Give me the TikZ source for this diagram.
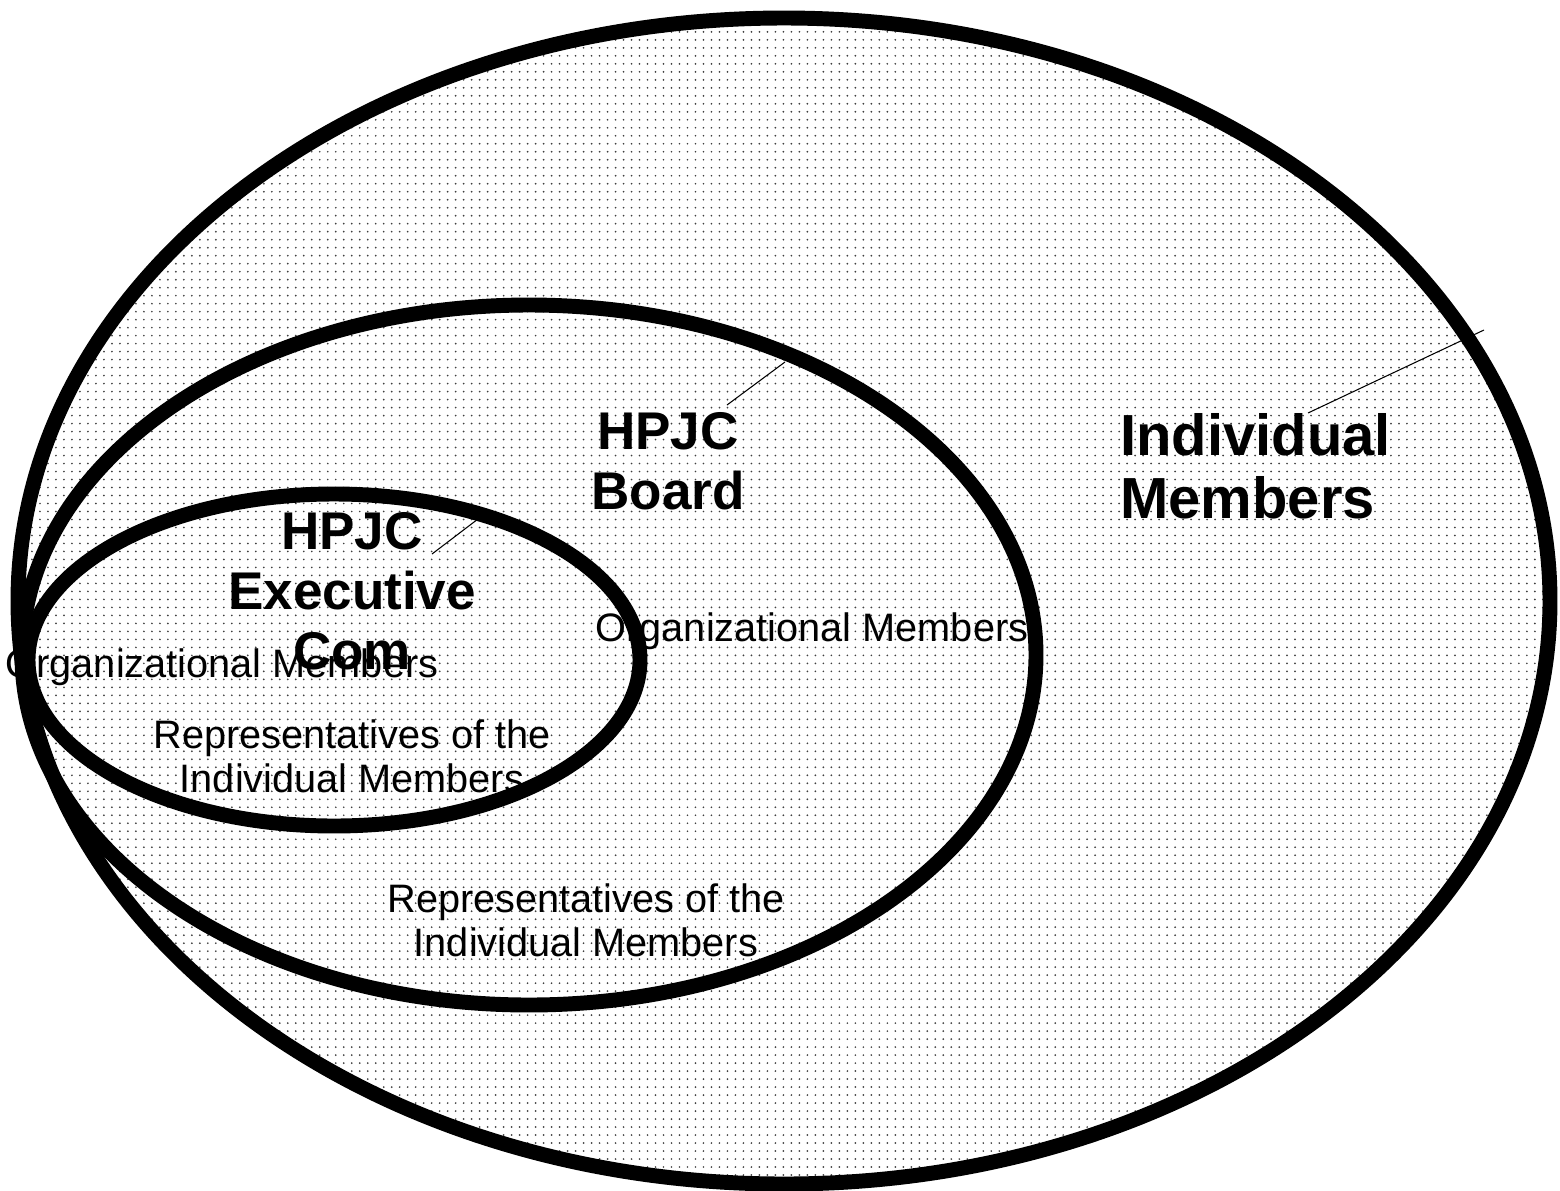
\documentclass[tikz,border=0pt]{standalone}
\usepackage{fontspec}
\setmainfont{Liberation Sans}
\usetikzlibrary{patterns}

% dotted screen used inside the rings
\pgfdeclarepatternformonly{memberdots}{\pgfqpoint{-1pt}{-1pt}}{\pgfqpoint{1pt}{1pt}}{\pgfqpoint{4.55pt}{4.55pt}}%
{\pgfpathcircle{\pgfqpoint{0pt}{0pt}}{0.55pt}\pgfusepath{fill}}

\begin{document}
\begin{tikzpicture} [x=0.02cm,y=-0.02cm,
  ring/.style={line width=8.5pt},
  bigname/.style={font=\fontsize{33}{36}\selectfont\bfseries,align=left,inner sep=0pt},
  groupname/.style={font=\fontsize{30.2}{34}\selectfont\bfseries,align=center,inner sep=0pt},
  member/.style={font=\fontsize{22.6}{25.2}\selectfont,align=center,inner sep=0pt},
  leader/.style={line width=0.6pt}]

\useasboundingbox (0,0) rectangle (1560,1191);

%% the dotted fill of the whole membership
\fill [pattern=memberdots,pattern color=black!75] (784,601) ellipse [x radius=766,y radius=583];

%% the three rings
\draw [ring] (784,601) ellipse [x radius=766,y radius=583];
\draw [ring] (529,655) ellipse [x radius=507,y radius=350];
\draw [ring] (334,660) ellipse [x radius=306,y radius=166];

%% names of the rings
\node [bigname,anchor=west] (indiv) at (1120,466) {Individual\\Members};
\node [groupname] (board) at (668,461) {HPJC\\Board};
\node [groupname] (exec) at (352,591) {HPJC\\Executive\\Com};

%% members of the board
\node [member] (boardorg) at (812,631) {Organizational Members};
\node [member] (boardrep) at (586,920) {Representatives of the\\Individual Members};

%% members of the executive committee
\node [member] (execorg) at (222,667) {Organizational Members};
\node [member] (execrep) at (352,756) {Representatives of the\\Individual Members};

%% leader lines from the names to the rings
\coordinate (indivA) at (1308,413);
\coordinate (indivB) at (1484,330);
\draw [leader] (indivA) -- (indivB);

\coordinate (boardA) at (727,405);
\coordinate (boardB) at (785,362);
\draw [leader] (boardA) -- (boardB);

\coordinate (execA) at (432,554);
\coordinate (execB) at (478,519);
\draw [leader] (execA) -- (execB);

\end{tikzpicture}
\end{document}
